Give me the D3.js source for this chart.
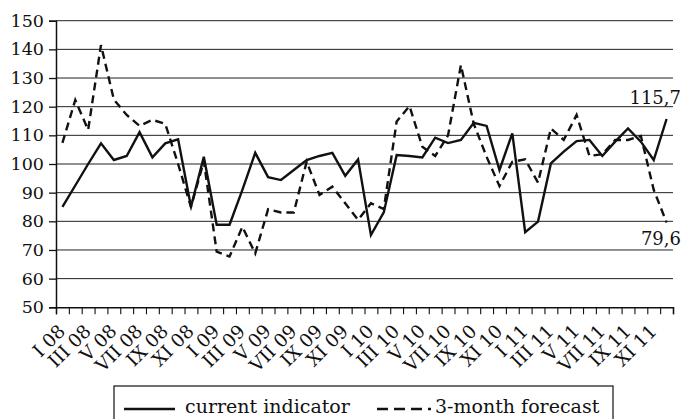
<!DOCTYPE html>
<html lang="en">
<head>
    <meta charset="UTF-8">
    <title>Indicator</title>
    <style>
        body { margin: 0; background: #fff; }
        text { font-family: "DejaVu Serif", serif; fill: #111; }
        .grid line { stroke: #222; stroke-width: 1; }
    </style>
</head>
<body>
    <script src="https://cdn.jsdelivr.net/npm/d3@7"></script>
    <script>

        var width = 682,
            height = 419;

        var romans = ["I", "II", "III", "IV", "V", "VI", "VII", "VIII", "IX", "X", "XI", "XII"];
        var years = ["08", "09", "10", "11"];

        var current = [85, 92.5, 100, 107.2, 101.4, 102.8, 111.1, 102.3, 107.2, 108.6, 85.1, 102.5,
                       78.8, 78.8, 91, 103.9, 95.4, 94.4, 97.9, 101.4, 102.8, 103.9, 95.9, 101.6,
                       75.2, 83.1, 103.1, 102.8, 102.3, 109.2, 107.3, 108.4, 114.4, 113.3, 97.9, 110.7,
                       76.2, 79.9, 100.2, 104.3, 108, 108.4, 102.8, 107.8, 112.4, 107.8, 101.4, 115.7];

        var forecast = [107.4, 122.3, 111.9, 141.5, 122.5, 117.1, 113.3, 115.4, 114, 100, 85, 101,
                        69.4, 67.7, 78.1, 68.8, 84.2, 83.1, 83.1, 100.8, 89.2, 92.1, 86.3, 80.5,
                        86.3, 84.3, 114.8, 120.2, 106, 102.8, 110, 134.5, 114, 102.5, 92.3, 100.8,
                        101.6, 93.5, 112.4, 108.4, 117.1, 102.8, 103.4, 108.4, 108.4, 109.8, 91, 79.6];

        var yTicks = [50, 60, 70, 80, 90, 100, 110, 120, 130, 140, 150];

        var months = [];
        years.forEach(function(yr) {
            romans.forEach(function(r) { months.push(r + " " + yr); });
        });

        var x0 = 56, x1 = 673, yTop = 20.7, yBot = 307.3;

        var x = d3.scaleLinear().domain([0, months.length]).range([x0, x1]);
        var y = d3.scaleLinear().domain([50, 150]).range([yBot, yTop]);

        var svg = d3.select("body").append("svg")
            .attr("width", width)
            .attr("height", height);

        // horizontal grid
        svg.append("g").attr("class", "grid")
            .selectAll("line")
            .data(yTicks.slice(1))
            .enter().append("line")
            .attr("x1", x0).attr("x2", x1)
            .attr("y1", function(d) { return y(d); })
            .attr("y2", function(d) { return y(d); });

        // y axis
        var yAxis = svg.append("g")
            .attr("transform", "translate(" + x0 + ",0)")
            .call(d3.axisLeft(y).tickValues(yTicks).tickSize(7).tickPadding(5));
        yAxis.select(".domain").attr("stroke", "#111").attr("stroke-width", 1.5);
        yAxis.selectAll(".tick line").attr("stroke", "#111").attr("stroke-width", 1.3);
        yAxis.selectAll("text")
            .style("font-family", "DejaVu Serif")
            .style("font-size", "17.5px")
            .attr("fill", "#111");

        // x axis: ticks on month boundaries, labels every second month
        var xAxis = svg.append("g")
            .attr("transform", "translate(0," + yBot + ")")
            .call(d3.axisBottom(x).tickValues(d3.range(0, months.length + 1)).tickSize(7).tickFormat(""));
        xAxis.select(".domain").attr("stroke", "#111").attr("stroke-width", 1.5);
        xAxis.selectAll(".tick line").attr("stroke", "#111").attr("stroke-width", 1.1);

        svg.append("g")
            .selectAll("text")
            .data(months.filter(function(d, i) { return i % 2 === 0; }))
            .enter().append("text")
            .attr("text-anchor", "end")
            .style("font-size", "18.5px")
            .attr("transform", function(d, i) {
                var px = x(i * 2 + 0.5) + 4, py = yBot + 25;
                return "translate(" + px + "," + py + ") rotate(-45)";
            })
            .text(function(d) { return d; });

        var line = d3.line()
            .x(function(d, i) { return x(i + 0.5); })
            .y(function(d) { return y(d); });

        svg.append("path")
            .datum(forecast)
            .attr("fill", "none")
            .attr("stroke", "#111")
            .attr("stroke-width", 2.4)
            .attr("stroke-dasharray", "8,5")
            .attr("d", line);

        svg.append("path")
            .datum(current)
            .attr("fill", "none")
            .attr("stroke", "#111")
            .attr("stroke-width", 2.4)
            .attr("d", line);

        // end value labels
        var last = months.length - 1;
        svg.append("text")
            .attr("x", 681).attr("y", y(current[last]) - 15)
            .attr("text-anchor", "end")
            .style("font-size", "18px")
            .text(String(current[last]).replace(".", ","));
        svg.append("text")
            .attr("x", 681).attr("y", y(forecast[last]) + 23)
            .attr("text-anchor", "end")
            .style("font-size", "18px")
            .text(String(forecast[last]).replace(".", ","));

        // legend
        var leg = svg.append("g");
        leg.append("rect")
            .attr("x", 114).attr("y", 386)
            .attr("width", 499).attr("height", 45)
            .attr("fill", "none").attr("stroke", "#111").attr("stroke-width", 1.2);
        leg.append("line")
            .attr("x1", 124).attr("x2", 175).attr("y1", 409).attr("y2", 409)
            .attr("stroke", "#111").attr("stroke-width", 2.4);
        leg.append("text")
            .attr("x", 185).attr("y", 413)
            .style("font-size", "19px")
            .text("current indicator");
        leg.append("line")
            .attr("x1", 377).attr("x2", 431).attr("y1", 409).attr("y2", 409)
            .attr("stroke", "#111").attr("stroke-width", 2.4)
            .attr("stroke-dasharray", "11,6");
        leg.append("text")
            .attr("x", 435).attr("y", 413)
            .style("font-size", "19px")
            .text("3-month forecast");

    </script>
</body>
</html>
